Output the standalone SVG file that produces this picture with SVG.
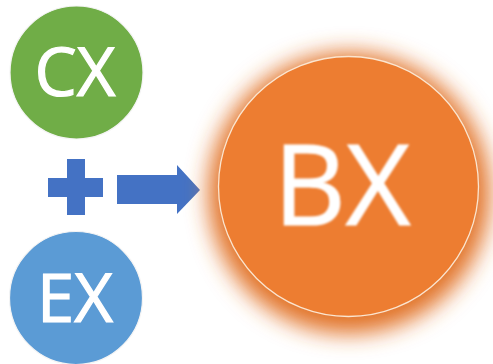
<svg xmlns="http://www.w3.org/2000/svg" width="493" height="364" viewBox="0 0 493 364">
  <defs>
    <style>
      .lbl { font-family: "Open Sans", "Noto Sans", "DejaVu Sans", sans-serif; fill: #ffffff; stroke: #ffffff; stroke-width: 1.2; text-anchor: middle; }
      .ring { stroke: #f4f4f4; stroke-width: 1.2; }
      .shape { fill: #4472c4; }
    </style>
    <filter id="glow" x="-30%" y="-30%" width="160%" height="160%">
      <feGaussianBlur stdDeviation="11"/>
    </filter>
    <filter id="soft" x="-10%" y="-10%" width="120%" height="120%">
      <feGaussianBlur stdDeviation="0.9"/>
    </filter>
  </defs>
  <rect width="493" height="364" fill="#ffffff"/>

  <g id="node-cx">
    <circle class="ring" cx="76.5" cy="72.5" r="66.5" fill="#70ad47"/>
    <text class="lbl" x="75" y="96" font-size="67">CX</text>
  </g>

  <g id="node-ex">
    <circle class="ring" cx="76" cy="298" r="66.5" fill="#5b9bd5"/>
    <text class="lbl" x="75" y="322" font-size="67">EX</text>
  </g>

  <g id="connectors">
    <path class="shape" d="M67 159 H85 V178 H103 V197 H85 V215 H67 V197 H48 V178 H67 Z"/>
    <path class="shape" d="M117 175 H177 V165 L200 190 L177 214 V204 H117 Z"/>
  </g>

  <g id="node-bx">
    <circle cx="349" cy="193" r="141" fill="#e2742a" filter="url(#glow)"/>
    <circle cx="348.5" cy="186.5" r="130" fill="#ed7d31" stroke="#fbe5cf" stroke-width="1.3"/>
    <text class="lbl" x="342" y="225" font-size="112" stroke-width="1.8" filter="url(#soft)">BX</text>
  </g>
</svg>
